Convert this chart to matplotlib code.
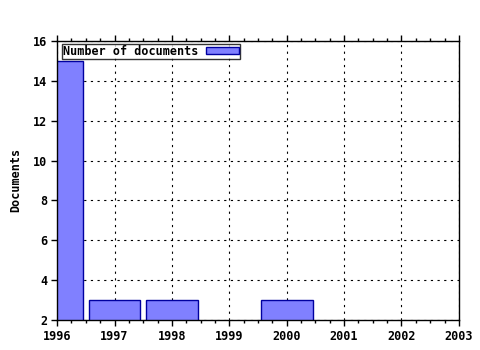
import matplotlib
matplotlib.use("Agg")
import matplotlib.pyplot as plt
from matplotlib.ticker import MultipleLocator

years = [1996, 1997, 1998, 2000]
documents = [15, 3, 3, 3]
x_ticks = [1996, 1997, 1998, 1999, 2000, 2001, 2002, 2003]
y_ticks = [2, 4, 6, 8, 10, 12, 14, 16]

plt.rcParams['font.family'] = 'DejaVu Sans Mono'
plt.rcParams['font.weight'] = 'bold'
plt.rcParams['font.size'] = 8.5

fig = plt.figure(figsize=(4.8, 3.5), dpi=100)
ax = fig.add_axes([0.119, 0.086, 0.837, 0.797])

ax.bar(years, documents, width=0.9, color='#8080ff', edgecolor='#0000a0',
       linewidth=1, label='Number of documents', zorder=2)

ax.set_xlim(1996, 2003)
ax.set_ylim(2, 16)
ax.set_xticks(x_ticks)
ax.set_yticks(y_ticks)
ax.xaxis.set_minor_locator(MultipleLocator(0.25))
ax.tick_params(axis='x', which='both', top=True, bottom=True, direction='out', length=4, width=1)
ax.tick_params(axis='x', which='minor', length=2)
ax.tick_params(axis='y', which='both', left=True, right=False, direction='out', length=4, width=1)
ax.tick_params(axis='both', labelsize=8.5, pad=3, colors='black')

ax.grid(True, which='major', color='black', linestyle=(0, (2, 4)), linewidth=0.8, zorder=1)
ax.set_axisbelow(True)
for s in ax.spines.values():
    s.set_linewidth(1)
    s.set_color('black')

ax.set_ylabel('Documents', fontsize=8.5, fontweight='bold', labelpad=8)

leg = ax.legend(loc='upper left', markerfirst=False, frameon=True, fancybox=False,
                borderpad=0.1, handlelength=2.8, handleheight=0.5, handletextpad=0.6,
                bbox_to_anchor=(0.012, 0.99), borderaxespad=0.0)
leg.get_frame().set_edgecolor('black')
leg.get_frame().set_linewidth(1)

fig.savefig('out.png', dpi=100)
